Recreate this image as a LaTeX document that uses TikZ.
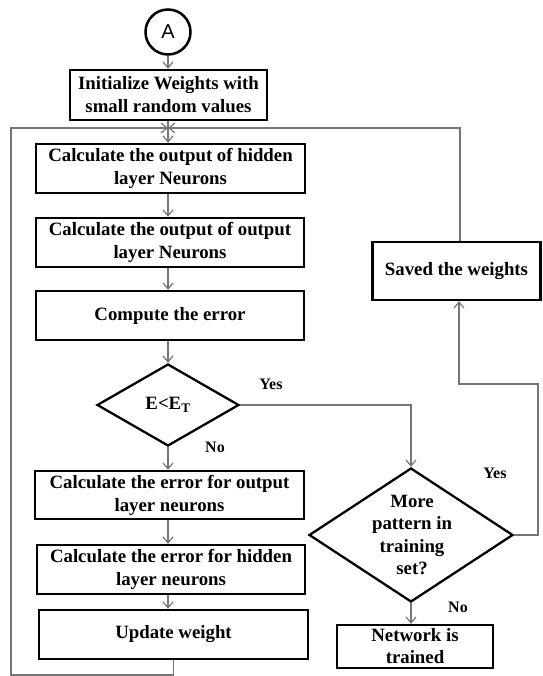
\documentclass[tikz,border=0pt]{standalone}
\usepackage{fontspec}
\setmainfont{Liberation Serif}
\newfontfamily\sansA{Liberation Sans}
\usetikzlibrary{shapes.geometric,arrows.meta}
\definecolor{linegray}{RGB}{118,118,118}
\newcommand\mainfnt{\fontsize{18.8}{23}\selectfont\bfseries}
\newcommand\lblfnt{\fontsize{16}{17}\selectfont\bfseries}
\begin{document}
\begin{tikzpicture}[x=1pt,y=-1pt,
  box/.style={draw=black,line width=2.3pt,inner sep=0pt,align=center,font=\mainfnt},
  dia/.style={diamond,draw=black,line width=2.3pt,inner sep=0pt},
  txt/.style={inner sep=0pt,align=center,font=\mainfnt},
  lbl/.style={inner sep=0pt,font=\lblfnt},
  conn/.style={draw=linegray,line width=1.2pt,-{Straight Barb[length=6pt,width=10pt]}},
  plain/.style={draw=linegray,line width=1.2pt}]
\useasboundingbox (0,0) rectangle (542,676);
% nodes
\node[circle,draw=black,line width=2.5pt,minimum size=45pt,inner sep=0pt,font=\sansA\fontsize{20}{20}\selectfont] (A) at (168,32) {A};
\node[box,minimum width=197pt,minimum height=50pt] (init) at (168.5,95) {Initialize Weights with\\small random values};
\node[box,minimum width=269pt,minimum height=49pt] (hidden) at (170.5,168.5) {Calculate the output of hidden\\layer Neurons};
\node[box,minimum width=268pt,minimum height=49pt] (output) at (170,242.5) {Calculate the output of output\\layer Neurons};
\node[box,minimum width=268pt,minimum height=49pt] (compute) at (170,315.5) {Compute the error};
\node[dia,minimum width=142pt,minimum height=82pt] (d1) at (168,405) {};
\node[txt] (d1t) at (168,405) {E<E\textsubscript{T}};
\node[box,minimum width=269pt,minimum height=48pt] (errout) at (169.5,495) {Calculate the error for output\\layer neurons};
\node[box,minimum width=268pt,minimum height=49pt] (errhid) at (171,569.5) {Calculate the error for hidden\\layer neurons};
\node[box,minimum width=269pt,minimum height=49pt] (update) at (173.5,634.5) {Update weight};
\node[box,minimum width=168pt,minimum height=58pt] (saved) at (456.5,271) {Saved the weights};
\node[dia,minimum width=204pt,minimum height=134pt] (d2) at (411,535) {};
\node[txt,font=\fontsize{18.8}{22.5}\selectfont\bfseries] (d2t) at (412,535) {More\\pattern in\\training\\set?};
\node[draw=black,line width=2.3pt,minimum width=156pt,minimum height=43pt,inner sep=0pt] (net) at (415,646.5) {};
\node[txt,font=\fontsize{18.8}{22}\selectfont\bfseries] (nett) at (415,646) {Network is\\trained};
% labels
\node[lbl] (yes1) at (271,384) {Yes};
\node[lbl] (no1) at (215,447) {No};
\node[lbl] (yes2) at (495,473) {Yes};
\node[lbl] (no2) at (458,607) {No};
% coordinates
\coordinate (J) at (168,128);
\coordinate (lb) at (173.5,675);
\coordinate (lc) at (11,675);
\coordinate (lt) at (11,128);
\coordinate (rt) at (460,128);
\coordinate (y1) at (411,405);
\coordinate (r1) at (538,535);
\coordinate (r2) at (538,384);
\coordinate (r3) at (459,384);
% connectors
\draw[conn] (A.south) -- (init.north -| A);
\draw[conn] (init.south -| A) -- (hidden.north -| A);
\draw[conn] (hidden.south -| A) -- (output.north -| A);
\draw[conn] (output.south -| A) -- (compute.north -| A);
\draw[conn] (compute.south -| A) -- (d1.north);
\draw[conn] (d1.south) -- (errout.north -| d1);
\draw[conn] (errout.south -| d1) -- (errhid.north -| d1);
\draw[conn] (errhid.south -| d1) -- (update.north -| d1);
\draw[conn] (update.south) -- (lb) -- (lc) -- (lt) -- (J);
\draw[conn] (saved.north -| rt) -- (rt) -- (J);
\draw[conn] (d1.east) -- (y1) -- (d2.north);
\draw[conn] (d2.east) -- (r1) -- (r2) -- (r3) -- (saved.south -| r3);
\draw[conn] (d2.south) -- (net.north -| d2);
\end{tikzpicture}
\end{document}
